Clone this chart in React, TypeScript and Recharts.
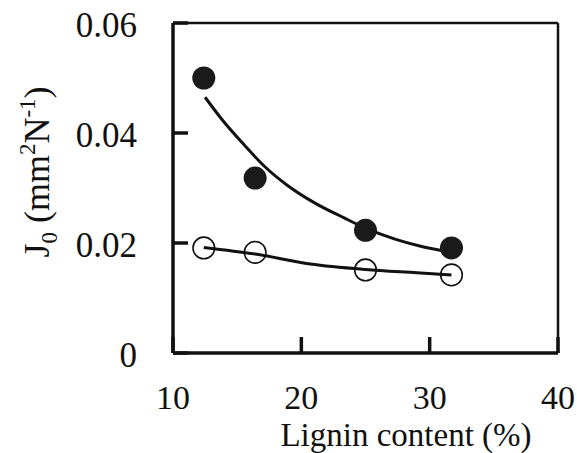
import React from "react";
import { ComposedChart, XAxis, YAxis, Line, Scatter, ReferenceLine } from "recharts";

// measured points (lignin %, J0)
const ligninPts = [12.4, 16.4, 25.0, 31.7];
const j0Filled = [0.05, 0.0318, 0.0223, 0.0191];
const j0Open = [0.0191, 0.0183, 0.0151, 0.0142];

// fitted curves
const fitFilledX = [12.5, 13.8, 15.6, 17.1, 18.9, 21.1, 23.3, 25.0, 27.3, 29.3, 31.5];
const fitFilledY = [0.0465, 0.0425, 0.0377, 0.034, 0.0305, 0.0272, 0.0246, 0.0227, 0.0207, 0.0194, 0.0184];
const fitOpenX = [12.4, 16.4, 20.7, 25.0, 29.0, 31.7];
const fitOpenY = [0.0192, 0.018, 0.0162, 0.0152, 0.0146, 0.0142];

const xTicks = [10, 20, 30, 40];
const yTicks = [0, 0.02, 0.04, 0.06];

const filledData = ligninPts.map((x, i) => ({ x, y: j0Filled[i] }));
const openData = ligninPts.map((x, i) => ({ x, y: j0Open[i] }));
const fitFilled = fitFilledX.map((x, i) => ({ x, y: fitFilledY[i] }));
const fitOpen = fitOpenX.map((x, i) => ({ x, y: fitOpenY[i] }));

const FONT = '"Liberation Serif", "Times New Roman", serif';
const INK = "#111";

const XTick = (props: any) => {
  const { x, y, payload } = props;
  return (
    <g>
      <line x1={x} x2={x} y1={y} y2={y - 16} stroke={INK} strokeWidth={3.5} />
      <text x={x} y={y + 56} textAnchor="middle" fontFamily={FONT} fontSize={34} fill={INK}>
        {payload.value}
      </text>
    </g>
  );
};

const YTick = (props: any) => {
  const { x, y, payload } = props;
  const v = payload.value;
  return (
    <g>
      <line x1={x} x2={x + 15} y1={y} y2={y} stroke={INK} strokeWidth={3.5} />
      <text x={x - 36} y={y + 14} textAnchor="end" fontFamily={FONT} fontSize={35} fill={INK}>
        {v === 0 ? "0" : v.toFixed(2)}
      </text>
    </g>
  );
};

const XTitle = () => (
  <text x={406} y={446} textAnchor="middle" fontFamily={FONT} fontSize={33} fill={INK}>
    Lignin content (%)
  </text>
);

const YTitle = () => (
  <text
    transform="translate(49,172) rotate(-90)"
    textAnchor="middle"
    fontFamily={FONT}
    fontSize={36}
    fill={INK}
  >
    J
    <tspan fontSize={23} dy={8}>0</tspan>
    <tspan dy={-8}> (mm</tspan>
    <tspan fontSize={23} dy={-14}>2</tspan>
    <tspan dy={14}>N</tspan>
    <tspan fontSize={23} dy={-14}>-1</tspan>
    <tspan dy={14}>)</tspan>
  </text>
);

const FilledDot = (p: any) => <circle cx={p.cx} cy={p.cy} r={11.5} fill="#1a1a1a" />;
const OpenDot = (p: any) => (
  <circle cx={p.cx} cy={p.cy} r={10.8} fill="none" stroke={INK} strokeWidth={1.6} />
);

export default function App() {
  return (
    <div style={{ position: "absolute", left: 0, top: 0, background: "#fff" }}>
      <ComposedChart width={577} height={453} margin={{ top: 23, right: 19, left: 0, bottom: 0 }}>
        <XAxis
          type="number"
          dataKey="x"
          domain={[10, 40]}
          ticks={xTicks}
          allowDataOverflow
          height={100}
          tickLine={false}
          tickSize={0}
          tickMargin={0}
          axisLine={{ stroke: INK, strokeWidth: 3.5 }}
          tick={<XTick />}
          label={<XTitle />}
        />
        <YAxis
          type="number"
          dataKey="y"
          domain={[0, 0.06]}
          ticks={yTicks}
          allowDataOverflow
          width={173}
          tickLine={false}
          tickSize={0}
          tickMargin={0}
          axisLine={{ stroke: INK, strokeWidth: 3.5 }}
          tick={<YTick />}
          label={<YTitle />}
        />
        <ReferenceLine y={0.06} stroke={INK} strokeWidth={2.5} />
        <ReferenceLine x={40} stroke={INK} strokeWidth={2.5} />
        <Line
          data={fitFilled}
          dataKey="y"
          type="monotone"
          stroke={INK}
          strokeWidth={3}
          dot={false}
          activeDot={false}
          isAnimationActive={false}
        />
        <Line
          data={fitOpen}
          dataKey="y"
          type="monotone"
          stroke={INK}
          strokeWidth={3}
          dot={false}
          activeDot={false}
          isAnimationActive={false}
        />
        <Scatter data={filledData} dataKey="y" shape={<FilledDot />} isAnimationActive={false} />
        <Scatter data={openData} dataKey="y" shape={<OpenDot />} isAnimationActive={false} />
      </ComposedChart>
    </div>
  );
}
